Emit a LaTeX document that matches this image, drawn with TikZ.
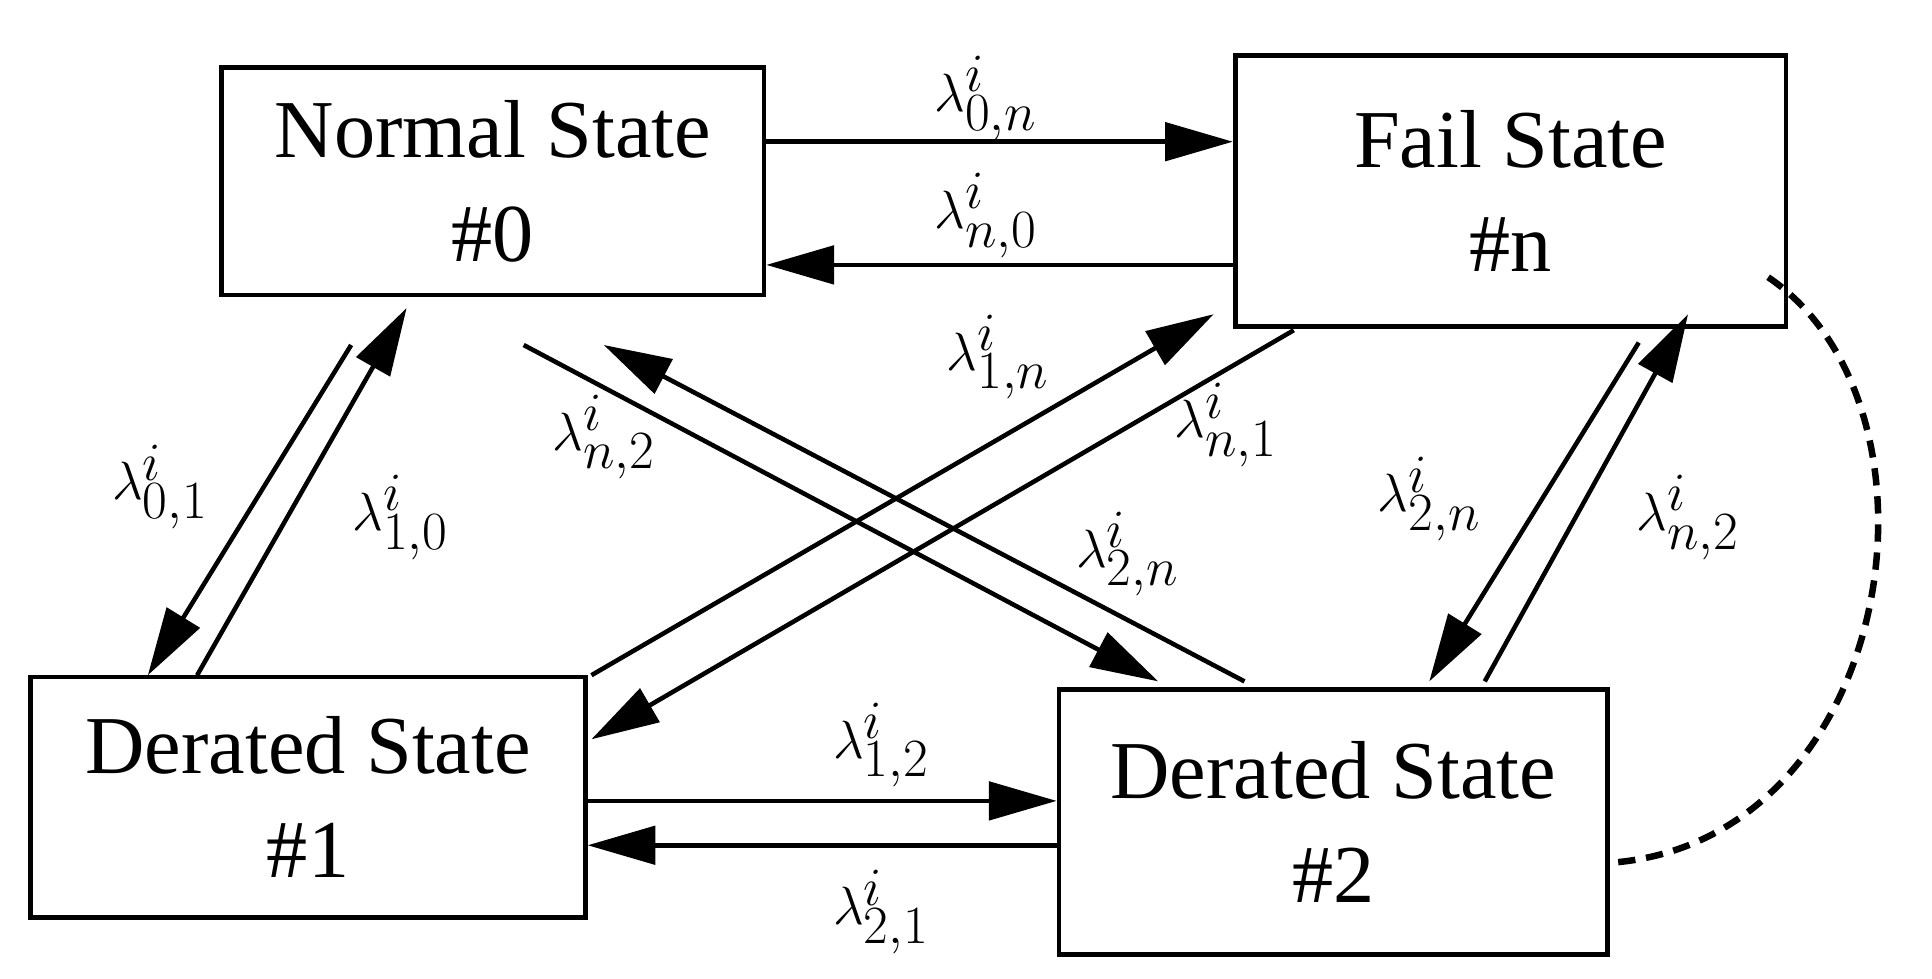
\documentclass[tikz,border=0pt]{standalone}
\usepackage{fontspec}
\setmainfont{Liberation Serif}
\usetikzlibrary{arrows.meta}
\begin{document}
\begin{tikzpicture}[x=0.02cm,y=-0.02cm,
 box/.style={draw,line width=2.2pt,align=center,font=\fontsize{38}{48}\selectfont,inner sep=0pt},
 arr/.style={line width=2.1pt,-{Triangle[length=1.1cm,width=0.62cm]}},
 lab/.style={font=\fontsize{36}{40}\selectfont,inner sep=0pt}]
\useasboundingbox (0,0) rectangle (1568,794);
\node[box,minimum width=440*0.02cm,minimum height=185*0.02cm] (n0) at (400,147) {Normal State\\\#0};
\node[box,minimum width=447*0.02cm,minimum height=220*0.02cm] (nn) at (1226,155) {Fail State\\\#n};
\node[box,minimum width=450*0.02cm,minimum height=195*0.02cm] (n1) at (250,647) {Derated State\\\#1};
\node[box,minimum width=445*0.02cm,minimum height=215*0.02cm] (n2) at (1082,667) {Derated State\\\#2};
% endpoints
\coordinate (a1) at (285,280); \coordinate (b1) at (120,548);
\coordinate (a2) at (160,548); \coordinate (b2) at (330,250);
\coordinate (a3) at (425,280); \coordinate (b3) at (940,553);
\coordinate (a4) at (1010,553); \coordinate (b4) at (490,280);
\coordinate (a5) at (480,548); \coordinate (b5) at (985,255);
\coordinate (a6) at (1050,268); \coordinate (b6) at (480,600);
\coordinate (a7) at (1330,278); \coordinate (b7) at (1160,553);
\coordinate (a8) at (1205,553); \coordinate (b8) at (1370,255);
\coordinate (c1) at (1435,225); \coordinate (c2) at (1310,700);
\draw[arr] (n0.east|-0,115) -- (nn.west|-0,115);
\draw[arr] (nn.west|-0,215) -- (n0.east|-0,215);
\draw[arr] (n1.east|-0,650) -- (n2.west|-0,650);
\draw[arr] (n2.west|-0,686) -- (n1.east|-0,686);
\draw[arr] (a1) -- (b1);
\draw[arr] (a2) -- (b2);
\draw[arr] (a3) -- (b3);
\draw[arr] (a4) -- (b4);
\draw[arr] (a5) -- (b5);
\draw[arr] (a6) -- (b6);
\draw[arr] (a7) -- (b7);
\draw[arr] (a8) -- (b8);
\draw[line width=3pt,dash pattern=on 8pt off 5pt] (c1) .. controls (1590,330) and (1540,680) .. (c2);
\node[lab] at (800,80) {$\lambda^{i}_{0,n}$};
\node[lab] at (800,175) {$\lambda^{i}_{n,0}$};
\node[lab] at (130,395) {$\lambda^{i}_{0,1}$};
\node[lab] at (325,420) {$\lambda^{i}_{1,0}$};
\node[lab] at (490,355) {$\lambda^{i}_{n,2}$};
\node[lab] at (915,450) {$\lambda^{i}_{2,n}$};
\node[lab] at (810,290) {$\lambda^{i}_{1,n}$};
\node[lab] at (995,345) {$\lambda^{i}_{n,1}$};
\node[lab] at (1160,405) {$\lambda^{i}_{2,n}$};
\node[lab] at (1370,420) {$\lambda^{i}_{n,2}$};
\node[lab] at (715,605) {$\lambda^{i}_{1,2}$};
\node[lab] at (715,740) {$\lambda^{i}_{2,1}$};
\end{tikzpicture}
\end{document}
